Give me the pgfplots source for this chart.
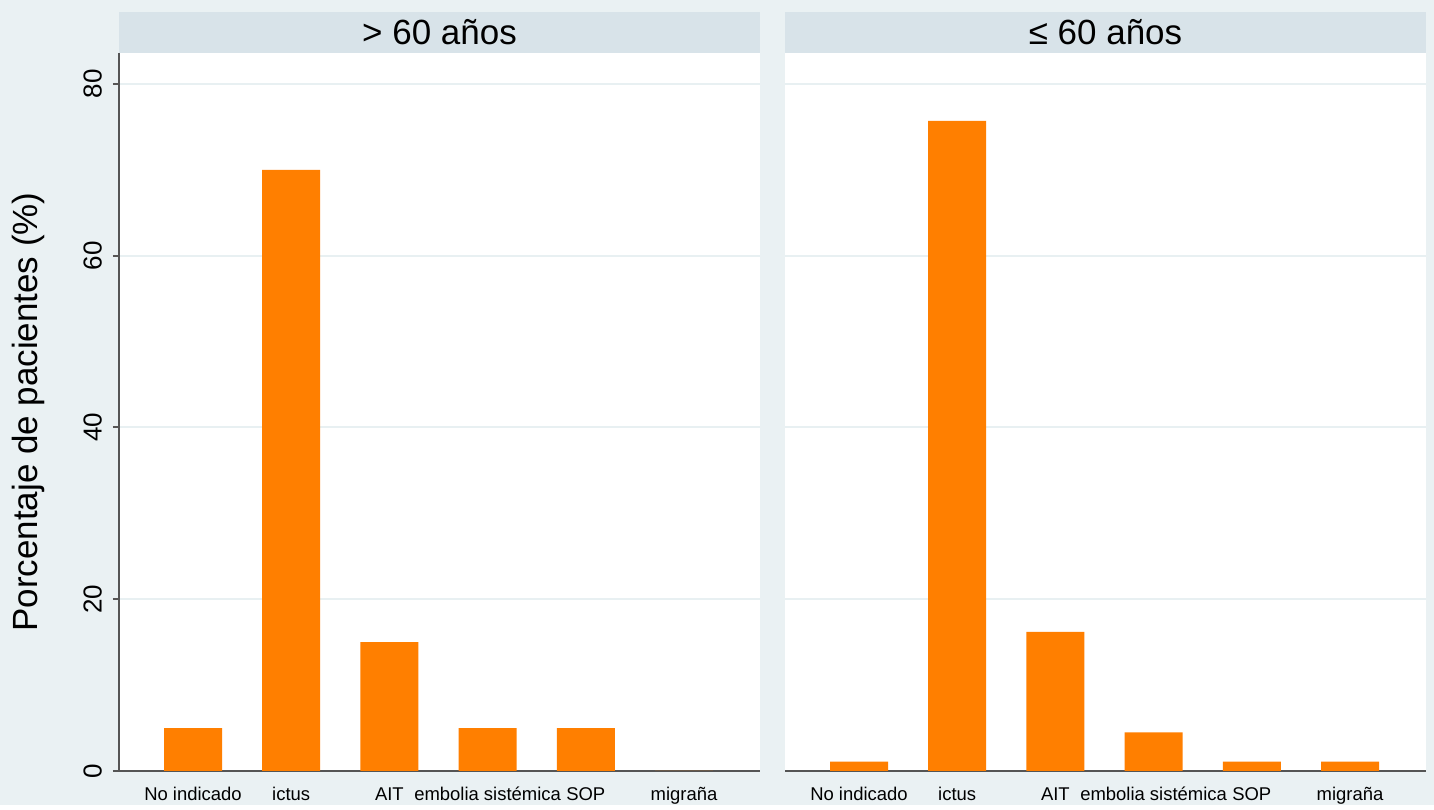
\documentclass[border=0pt]{standalone}
\usepackage{fontspec}
\setmainfont{Liberation Sans}
\usepackage{pgfplots}
\pgfplotsset{compat=1.18}
\definecolor{bgc}{RGB}{234,241,243}
\definecolor{hdr}{RGB}{216,227,233}
\definecolor{barc}{RGB}{255,127,0}
\definecolor{gridc}{RGB}{232,240,242}
\definecolor{axc}{RGB}{85,85,85}

\pgfplotsset{panel/.style={
  width=12.82cm, height=14.36cm, scale only axis,
  ybar, bar width=1.16cm,
  xmin=-0.7536, xmax=5.774, ymin=0, ymax=83.61,
  xtick={0,...,5},
  xticklabels={No indicado, ictus, AIT, embolia sistémica, SOP, migraña},
  xticklabel style={font=\fontsize{10.5}{12}\selectfont, text=black, text height=1.6ex, text depth=0.4ex, yshift=-0.04cm},
  major x tick style={draw=none},
  ytick={0,20,40,60,80},
  ymajorgrids, grid style={gridc, line width=0.4mm},
  axis background/.style={fill=white},
  axis x line=bottom, axis y line=left,
  axis line style={axc, line width=0.4mm, -},
  major tick length=0.12cm, tick align=outside,
  ytick style={axc, line width=0.4mm},
  /pgf/number format/assume math mode=true,
  clip=false,
}}

\begin{document}
\begin{tikzpicture}
\fill[bgc] (-2.38cm,-0.68cm) rectangle (26.30cm,15.42cm);
\begin{axis}[panel, at={(0,0)}, anchor=south west,
  yticklabel style={xshift=-0.1cm, rotate=90, anchor=south, font=\fontsize{14.8}{16}\selectfont, text=black},
  ylabel={Porcentaje de pacientes (\%)},
  ylabel style={at={(axis description cs:-0.142,0.5)}, anchor=center, font=\fontsize{19.9}{22}\selectfont},
]
\addplot[fill=barc, draw=none] coordinates {(0,5) (1,70) (2,15) (3,5) (4,5) (5,0)};
\fill[hdr] (axis description cs:0,1) rectangle (axis description cs:1,1.0571);
\node[font=\fontsize{19.9}{22}\selectfont] at (axis description cs:0.5,1.0286) {> 60 años};
\end{axis}
\begin{axis}[panel, at={(13.32cm,0)}, anchor=south west,
  yticklabels={}, y axis line style={draw=none}, ytick style={draw=none},
]
\addplot[fill=barc, draw=none] coordinates {(0,1.1) (1,75.7) (2,16.2) (3,4.5) (4,1.1) (5,1.1)};
\fill[hdr] (axis description cs:0,1) rectangle (axis description cs:1,1.0571);
\node[font=\fontsize{19.9}{22}\selectfont] at (axis description cs:0.5,1.0286) {≤ 60 años};
\end{axis}
\end{tikzpicture}
\end{document}
